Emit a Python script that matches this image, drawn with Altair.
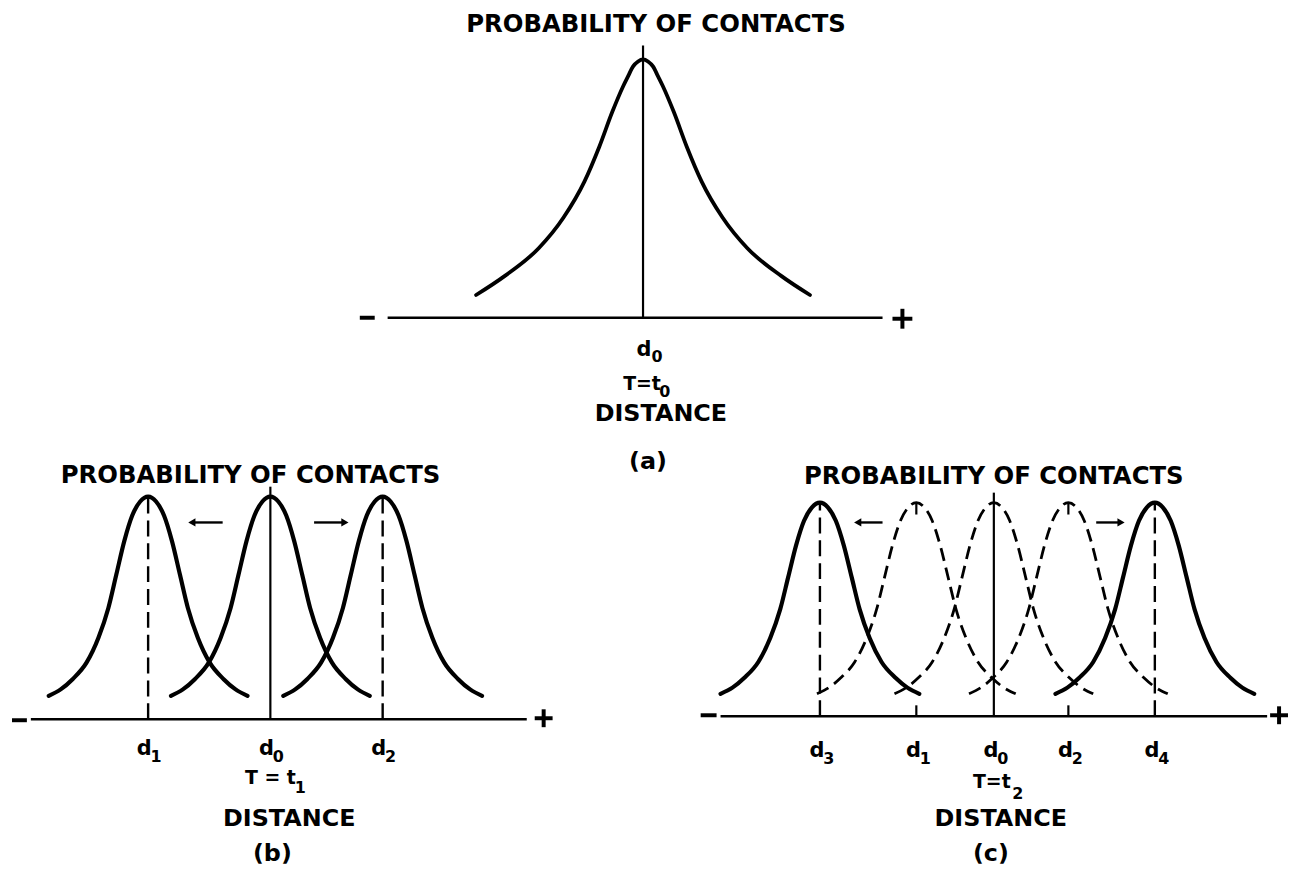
import altair as alt
import pandas as pd

# ---------------- values ----------------
# Bell curve of panel (a): offset from the peak (distance) -> relative probability
a_offset = [0, 5, 10, 15, 20, 31, 44, 59, 80, 105, 139, 168]
a_prob = [1.0, 0.992, 0.973, 0.935, 0.896, 0.796, 0.662, 0.527, 0.388, 0.269, 0.162, 0.088]
# Narrower bell curves of panels (b) and (c)
bc_offset = [0, 8, 16, 24, 32, 40, 50, 62, 76, 88, 100]
bc_prob = [1.0, 0.978, 0.915, 0.80, 0.65, 0.50, 0.366, 0.254, 0.18, 0.134, 0.105]

# Peak locations (distance from d0) and their subscripts
a_peak_sub = ["0"]
a_peak_pos = [0]
b_peak_sub = ["1", "0", "2"]
b_peak_pos = [-123, 0, 113]
c_peak_sub = ["3", "1", "0", "2", "4"]
c_peak_pos = [-175, -78, 0, 75, 162]
c_peak_style = ["solid", "dashed", "dashed", "dashed", "solid"]

# Extent of each distance axis (from d0)
a_axis = [-257, 241]
b_axis = [-241, 258]
c_axis = [-275, 275]

time_sub = ["0", "1", "2"]
panel_names = ["a", "b", "c"]
title_text = "PROBABILITY OF CONTACTS"
axis_text = "DISTANCE"

# ---------------- layout (page geometry) ----------------
FONT = "DejaVu Sans"
W, H = 1289, 858
L = {
    "a": dict(x0=647, y0=317, peak=260, vline=274, axis=a_axis, cw=3.8,
              minus=(362, 377, 317), plus=(908, 318, 10),
              title=(660, 29), dsub_dx=(1, 14), dbase=(38, 45),
              T=(646, 390, "T=t"), Tsub=(669, 397), dist=(665, 421), letter=(652, 469)),
    "b": dict(x0=272, y0=721, peak=224, vline=234, axis=b_axis, cw=4.2,
              minus=(12, 27, 722), plus=(547, 720, 9),
              title=(252, 483), dsub_dx=(-4, 8), dbase=(36, 43),
              T=(272, 786, "T = t"), Tsub=(302, 795), dist=(291, 828), letter=(274, 864)),
    "c": dict(x0=1000, y0=718, peak=215, vline=225, axis=c_axis, cw=4.2,
              minus=(705, 721, 717), plus=(1287, 717, 9),
              title=(1000, 484), dsub_dx=(-3, 9), dbase=(41, 48),
              T=(998, 790, "T=t"), Tsub=(1024, 801), dist=(1007, 828), letter=(997, 864)),
}


def mirror(offsets, probs):
    xs_ = [-o for o in reversed(offsets[1:])] + offsets
    ps_ = list(reversed(probs[1:])) + probs
    return xs_, ps_


curve_rows = []
rule_rows = []
head_rows = []
title_rows, dlab_rows, sub_rows, tlab_rows, big_rows = [], [], [], [], []

panels = {
    "a": (a_peak_sub, a_peak_pos, ["solid"], mirror(a_offset, a_prob)),
    "b": (b_peak_sub, b_peak_pos, ["solid"] * 3, mirror(bc_offset, bc_prob)),
    "c": (c_peak_sub, c_peak_pos, c_peak_style, mirror(bc_offset, bc_prob)),
}

for k, name in enumerate(panel_names):
    lay = L[name]
    subs, pos, styles, (off, prob) = panels[name]
    x0, y0, pk = lay["x0"], lay["y0"], lay["peak"]
    # curves
    for i, (p, st) in enumerate(zip(pos, styles)):
        sty = st if st == "dashed" else f"solid_{name}"
        for o, pr in zip(off, prob):
            curve_rows.append(dict(cid=f"{name}{i}", style=sty,
                                   gx=x0 + p + o, gy=y0 - pr * pk))
    # axis line
    rule_rows.append(dict(kind="axis", gx=x0 + lay["axis"][0], gy=y0,
                          gx2=x0 + lay["axis"][1], gy2=y0))
    # minus and plus signs
    m = lay["minus"]
    rule_rows.append(dict(kind="sign", gx=m[0], gy=m[2], gx2=m[1], gy2=m[2]))
    pcx, pcy, arm = lay["plus"]
    rule_rows.append(dict(kind="sign", gx=pcx - arm, gy=pcy, gx2=pcx + arm, gy2=pcy))
    rule_rows.append(dict(kind="sign", gx=pcx, gy=pcy - arm, gx2=pcx, gy2=pcy + arm))
    # solid vertical line at d0
    rule_rows.append(dict(kind="vsolid", gx=x0, gy=y0, gx2=x0, gy2=y0 - lay["vline"]))
    # verticals at the shifted peaks
    for p, st in zip(pos, styles):
        if p == 0:
            continue
        if name == "c" and st == "dashed":
            rule_rows.append(dict(kind="tick", gx=x0 + p, gy=y0, gx2=x0 + p, gy2=y0 - 11))
            rule_rows.append(dict(kind="tick", gx=x0 + p, gy=y0 - pk, gx2=x0 + p, gy2=y0 - pk + 12))
        else:
            rule_rows.append(dict(kind="vdash", gx=x0 + p, gy=y0, gx2=x0 + p, gy2=y0 - pk))
    # tick labels d_i
    for s, p in zip(subs, pos):
        dlab_rows.append(dict(gx=x0 + p + lay["dsub_dx"][0], gy=y0 + lay["dbase"][0], text="d"))
        sub_rows.append(dict(gx=x0 + p + lay["dsub_dx"][1], gy=y0 + lay["dbase"][1], text=s))
    # T = t_k
    tx, ty, tt = lay["T"]
    tlab_rows.append(dict(gx=tx, gy=ty, text=tt))
    sub_rows.append(dict(gx=lay["Tsub"][0], gy=lay["Tsub"][1], text=time_sub[k]))
    # DISTANCE and panel letter
    big_rows.append(dict(gx=lay["dist"][0], gy=lay["dist"][1], text=axis_text))
    big_rows.append(dict(gx=lay["letter"][0], gy=lay["letter"][1], text=f"({name})"))
    title_rows.append(dict(gx=lay["title"][0], gy=lay["title"][1], text=title_text))

# arrows in (b) and (c): (panel, tail x, tip x, y)
arrows = [("b", 224, 188, 523), ("b", 316, 352, 523),
          ("c", 888, 858, 523), ("c", 1103, 1133, 523)]
for _, tail, tip, y in arrows:
    d = 1 if tip > tail else -1
    rule_rows.append(dict(kind="arrow", gx=tail, gy=y, gx2=tip - d * 6, gy2=y))
    head_rows.append(dict(gx=tip - d * 5, gy=y,
                          shape="triangle-right" if d > 0 else "triangle-left"))

curves = pd.DataFrame(curve_rows)
rules = pd.DataFrame(rule_rows)
heads = pd.DataFrame(head_rows)

xs = alt.Scale(domain=[8, 8 + W], nice=False, zero=False)
ys = alt.Scale(domain=[8, 8 + H], nice=False, zero=False, reverse=True)
X = alt.X("gx:Q", scale=xs, axis=None)
Y = alt.Y("gy:Q", scale=ys, axis=None)


def rule_layer(kind, width, dash=None):
    kw = dict(color="black", strokeWidth=width)
    if dash:
        kw["strokeDash"] = dash
    return alt.Chart(rules[rules.kind == kind]).mark_rule(**kw).encode(
        x=X, y=Y, x2="gx2:Q", y2="gy2:Q")


def curve_layer(style, width, dash=None):
    kw = dict(color="black", strokeWidth=width, interpolate="monotone", strokeCap="round")
    if dash:
        kw["strokeDash"] = dash
        kw["strokeCap"] = "butt"
    return alt.Chart(curves[curves["style"] == style]).mark_line(**kw).encode(
        x=X, y=Y, detail="cid:N")


def text_layer(rows, size):
    return alt.Chart(pd.DataFrame(rows)).mark_text(
        font=FONT, fontWeight="bold", fontSize=size, align="center",
        baseline="alphabetic", color="black").encode(x=X, y=Y, text="text:N")


layers = [
    rule_layer("axis", 2.4),
    rule_layer("sign", 4),
    rule_layer("vsolid", 2.2),
    rule_layer("vdash", 2.4, [16, 7]),
    rule_layer("tick", 2.2),
    rule_layer("arrow", 2.4),
    alt.Chart(heads).mark_point(filled=True, size=70, color="black", opacity=1).encode(
        x=X, y=Y, shape=alt.Shape("shape:N", scale=None)),
    curve_layer("solid_a", L["a"]["cw"]),
    curve_layer("solid_b", L["b"]["cw"]),
    curve_layer("solid_c", L["c"]["cw"]),
    curve_layer("dashed", 2.8, [13, 7]),
    text_layer(title_rows, 24.5),
    text_layer(dlab_rows, 21),
    text_layer(sub_rows, 16),
    text_layer(tlab_rows, 19),
    text_layer(big_rows, 24),
]

chart = alt.layer(*layers).properties(
    width=W, height=H, padding=0,
    autosize=alt.AutoSizeParams(type="none"),
    background="white",
).configure_view(stroke=None)

chart.save("out.html", embed_options={"renderer": "svg", "actions": False})
